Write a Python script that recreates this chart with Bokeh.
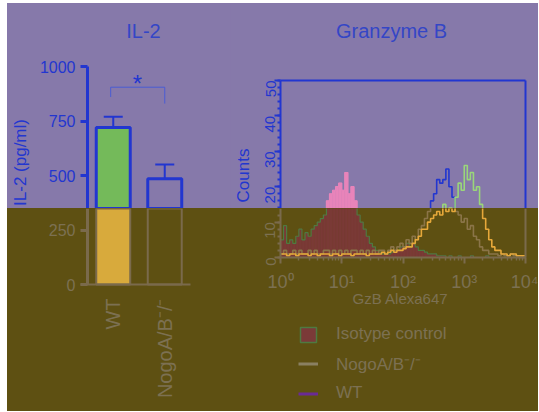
from math import pi
import numpy as np
from bokeh.plotting import figure
from bokeh.models import (Range1d, LinearAxis, LogAxis, FixedTicker, SingleIntervalTicker,
                          Whisker, TeeHead, Label, Legend, LegendItem, ColumnDataSource)
from bokeh.layouts import column, row
from bokeh.embed import file_html
from bokeh.resources import INLINE

# ---------------- data ----------------
groups = ["WT", "NogoA/B⁻/⁻"]
il2_mean = [720, 485]
il2_sem = [50, 65]
il2_ticks = [0, 250, 500, 750, 1000]
sig_level = 905
sig_drop = [45, 75]

# 80 log-spaced channels from 10^0 to 10^4
gzb_log_edges = np.linspace(0, 4, 81)
isotype_counts = [5, 9, 4, 5, 4, 6, 8, 5, 7, 6,
                  8, 9, 10, 11, 12, 16, 18, 19, 20, 21,
                  19, 24, 18, 20, 16, 12, 10, 8, 6, 4,
                  3, 2, 1.5, 1, 1, 1, 1.5, 2, 2, 3,
                  3, 4, 3, 4, 3, 2, 2, 1.5, 1, 1,
                  1, 0.5, 0.5, 0.5, 0, 0.5, 0, 0, 0.5, 0,
                  0, 0, 0.5, 0, 0, 0, 0, 0.5, 0, 0,
                  0, 0, 0, 0, 0, 0, 0, 0, 0, 0]
nogo_counts = [1, 2, 1, 1, 2, 1, 2, 1, 1, 2,
               1, 2, 1, 1, 2, 2, 1, 2, 1, 2,
               1, 2, 1, 2, 2, 1, 2, 1, 2, 1,
               2, 1, 2, 2, 1, 2, 3, 2, 3, 4,
               3, 5, 4, 6, 5, 8, 9, 11, 13, 16,
               18, 22, 21, 22, 25, 20, 17, 13, 12, 10,
               11, 8, 9, 6, 5, 3, 2, 2, 1, 1,
               1, 0.5, 1, 0.5, 0.5, 1, 0.5, 0.5, 0.5, 0]
wt_counts = [1, 1, 0.5, 1, 1, 0.5, 1, 1, 1, 0.5,
             1, 1, 0.5, 1, 1, 1, 0.5, 1, 1, 0.5,
             1, 1, 1, 0.5, 1, 1, 1, 1, 0.5, 1,
             1, 1, 1, 1.5, 1, 1.5, 2, 1.5, 2, 2,
             2.5, 3, 3, 4, 5, 6, 8, 8, 10, 11,
             12, 13, 12, 15, 13, 14, 13, 17, 21, 19,
             26, 22, 24, 19, 20, 15, 11, 8, 5, 3,
             2, 2, 1, 1, 0.5, 1, 1, 0.5, 0.5, 0.5]
legend_labels = ["Isotype control", "NogoA/B⁻/⁻", "WT"]
decade_ticks = [1, 10, 100, 1000, 10000]
decade_labels = ["10⁰", "10¹", "10²", "10³", "10⁴"]
count_interval = 10
count_top = 50

# ---------------- style / geometry (page pixels) ----------------
FONT = "Liberation Sans"
PURPLE = "#8679AA"
OLIVE = "#5E5012"
BLUE = "#2236D0"
TBLUE = "#3446C6"
BROWN = "#7C7052"
ABROWN = "#7A6A4C"
NAN = float("nan")

X0, Y0 = 7, 3
SPLIT_X, SPLIT = 230, 208
LW, RW = SPLIT_X - X0, 308
TH, BH = SPLIT - Y0, 203

L_AXIS_X, L_C0, L_U, L_ZERO, L_PX = 87, 112.75, 51.5, 284, 0.218
R_X0, R_DEC, R_ZERO, R_TOP = 280, 61.25, 257, 80
R_PX = (R_ZERO - R_TOP) / count_top


def lx(px):
    return (px - L_C0) / L_U


def ly(py):
    return (L_ZERO - py) / L_PX


def rx(px):
    return 10 ** ((px - R_X0) / R_DEC)


def ry(py):
    return (R_ZERO - py) / R_PX


def make_fig(w, h, bg, xr, yr, xtype="linear"):
    p = figure(width=w, height=h, x_range=xr, y_range=yr, x_axis_type=xtype,
               x_axis_location=None, y_axis_location=None, toolbar_location=None,
               output_backend="svg", background_fill_color=bg, border_fill_color=bg,
               outline_line_color=None, min_border_left=0, min_border_right=0,
               min_border_top=0, min_border_bottom=0)
    p.title.visible = False
    for g in p.grid:
        g.visible = False
    return p


def label(p, x, y, text, color, size, angle=0.0):
    p.add_layout(Label(x=x, y=y, text=text, text_color=color, text_font=FONT,
                       text_font_size=size, text_align="center",
                       text_baseline="middle", angle=angle))


def plain_axis(color, width, loc, bounds):
    return LinearAxis(ticker=FixedTicker(ticks=[]), axis_line_color=color,
                      axis_line_width=width, major_tick_line_color=None,
                      minor_tick_line_color=None, major_tick_out=0, minor_tick_out=0,
                      major_label_text_font_size="0px", major_label_standoff=0,
                      fixed_location=loc, bounds=bounds)


group_pos = list(range(len(groups)))
bar_src = ColumnDataSource(dict(g=group_pos, m=il2_mean,
                                up=[m + s for m, s in zip(il2_mean, il2_sem)],
                                fa=[1, 0]))


# ---------------- IL-2 bar chart (two windows) ----------------
def il2_panel(top):
    xr = Range1d(lx(X0), lx(X0 + LW))
    if top:
        p = make_fig(LW, TH, PURPLE, xr, Range1d(ly(SPLIT), ly(Y0)))
        col, txt, fill, lw = BLUE, BLUE, "#74BA5A", 3
    else:
        p = make_fig(LW, BH, OLIVE, xr, Range1d(ly(SPLIT + BH), ly(SPLIT)))
        col, txt, fill, lw = ABROWN, BROWN, "#D8AA3C", 2
    ax = LinearAxis(ticker=FixedTicker(ticks=il2_ticks), bounds=(0, il2_ticks[-1]),
                    fixed_location=lx(L_AXIS_X),
                    axis_line_color=col, axis_line_width=3,
                    major_tick_line_color=col, major_tick_line_width=3,
                    major_tick_out=7, major_tick_in=0, minor_tick_line_color=None,
                    major_label_text_color=txt, major_label_text_font=FONT,
                    major_label_text_font_size="16px", major_label_standoff=5)
    p.add_layout(ax, "left")
    p.vbar(x="g", top="m", bottom=0, width=0.66, source=bar_src,
           fill_color=fill, fill_alpha="fa", line_color=col, line_width=lw)
    if top:
        p.add_layout(Whisker(base="g", upper="up", lower="m", source=bar_src,
                             line_color=BLUE, line_width=2,
                             upper_head=TeeHead(size=19, line_color=BLUE, line_width=2),
                             lower_head=None))
        p.line(x=[group_pos[0] - 0.05, group_pos[0] - 0.05, group_pos[1], group_pos[1]],
               y=[sig_level - sig_drop[0], sig_level, sig_level, sig_level - sig_drop[1]],
               line_color="#4A5CD4", line_width=1)
        label(p, lx(137), ly(83), "*", BLUE, "24px")
        label(p, lx(143), ly(30), "IL-2", TBLUE, "20px")
        label(p, lx(20), ly(162), "IL-2 (pg/ml)", BLUE, "17px", pi / 2)
    else:
        xa = LinearAxis(ticker=FixedTicker(ticks=group_pos),
                        major_label_overrides=dict(zip(group_pos, groups)),
                        fixed_location=0, bounds=(lx(80), lx(190)),
                        axis_line_color=col, axis_line_width=2,
                        major_tick_line_color=None, minor_tick_line_color=None,
                        major_label_orientation=pi / 2, major_label_text_color=txt,
                        major_label_text_font=FONT, major_label_text_font_size="20px",
                        major_label_standoff=8)
        p.add_layout(xa, "below")
    return p


# ---------------- Granzyme B histogram (two windows) ----------------
edges = list(10 ** gzb_log_edges)


def hist(p, iso_fill, iso_line, nogo_col, wt_col):
    p.quad(left=edges[:-1], right=edges[1:], bottom=0, top=isotype_counts,
           fill_color=iso_fill, line_color=iso_fill, line_width=0.5)
    p.step(x=edges, y=isotype_counts + isotype_counts[-1:], mode="after",
           line_color=iso_line, line_width=1.2)
    p.step(x=edges, y=nogo_counts + nogo_counts[-1:], mode="after",
           line_color=nogo_col, line_width=1.6)
    p.step(x=edges, y=wt_counts + wt_counts[-1:], mode="after",
           line_color=wt_col, line_width=1.6)


def gzb_panel(top):
    xr = Range1d(rx(SPLIT_X), rx(SPLIT_X + RW))
    xb = (decade_ticks[0], decade_ticks[-1])
    yb = (0, count_top)
    if top:
        p = make_fig(RW, TH, PURPLE, xr, Range1d(ry(SPLIT), ry(Y0)), xtype="log")
        col, txt = BLUE, BLUE
    else:
        p = make_fig(RW, BH, OLIVE, xr, Range1d(ry(SPLIT + BH), ry(SPLIT)), xtype="log")
        col, txt = ABROWN, BROWN
    if top:
        hist(p, "#E884BA", "#E884BA", BLUE, "#9AD67A")
    else:
        hist(p, "#7A3A36", "#4E7A40", "#8A7448", "#E6A83A")
    ya = LinearAxis(ticker=SingleIntervalTicker(interval=count_interval, num_minor_ticks=5),
                    fixed_location=decade_ticks[0], bounds=yb,
                    axis_line_color=col, axis_line_width=2,
                    major_tick_line_color=col, major_tick_line_width=2,
                    minor_tick_line_color=col, minor_tick_line_width=2,
                    major_tick_out=6, major_tick_in=0, minor_tick_out=3, minor_tick_in=0,
                    major_label_orientation=pi / 2, major_label_text_color=txt,
                    major_label_text_font=FONT, major_label_text_font_size="15px",
                    major_label_standoff=4)
    p.add_layout(ya, "left")
    p.add_layout(plain_axis(col, 2, decade_ticks[-1], yb), "right")
    if top:
        p.add_layout(plain_axis(col, 2, count_top, xb), "above")
        label(p, rx(391), ry(30), "Granzyme B", TBLUE, "20px")
        label(p, rx(243), ry(175), "Counts", BLUE, "17px", pi / 2)
    else:
        minors = [d * m for d in decade_ticks[:-1] for m in range(2, 10)]
        xa = LogAxis(ticker=FixedTicker(ticks=decade_ticks, minor_ticks=minors),
                     major_label_overrides=dict(zip(decade_ticks, decade_labels)),
                     fixed_location=0, bounds=xb,
                     axis_line_color=col, axis_line_width=2,
                     major_tick_line_color=col, major_tick_line_width=2,
                     minor_tick_line_color=col, minor_tick_line_width=1.5,
                     major_tick_out=6, major_tick_in=0, minor_tick_out=3, minor_tick_in=0,
                     major_label_text_color=txt, major_label_text_font=FONT,
                     major_label_text_font_size="18px", major_label_standoff=8)
        p.add_layout(xa, "below")
        label(p, rx(400), ry(298), "GzB Alexa647", BROWN, "15px")
        # legend swatches (no data drawn in the plot area)
        r_iso = p.quad(left=[NAN], right=[NAN], top=[NAN], bottom=[NAN],
                       fill_color="#7B3A38", line_color="#4E7A40", line_width=1.5)
        r_nogo = p.line(x=[NAN, NAN], y=[NAN, NAN], line_color="#8A8062", line_width=3)
        r_wt = p.line(x=[NAN, NAN], y=[NAN, NAN], line_color="#6A2A96", line_width=3)
        leg = Legend(items=[LegendItem(label=legend_labels[0], renderers=[r_iso]),
                            LegendItem(label=legend_labels[1], renderers=[r_nogo]),
                            LegendItem(label=legend_labels[2], renderers=[r_wt])],
                     location=(298 - SPLIT_X, 8), orientation="vertical",
                     glyph_width=20, glyph_height=19, label_standoff=18, spacing=8,
                     padding=0, margin=0, border_line_color=None,
                     background_fill_alpha=0, label_text_font=FONT,
                     label_text_font_size="17px", label_text_color=BROWN)
        p.add_layout(leg)
    return p


layout = column(row(il2_panel(True), gzb_panel(True), spacing=0),
                row(il2_panel(False), gzb_panel(False), spacing=0), spacing=0,
                margin=(Y0, 0, 0, X0),
                styles={"background": f"linear-gradient({PURPLE} 0 {TH}px, {OLIVE} {TH}px)"})

open("out.html", "w").write(file_html(layout, INLINE))
